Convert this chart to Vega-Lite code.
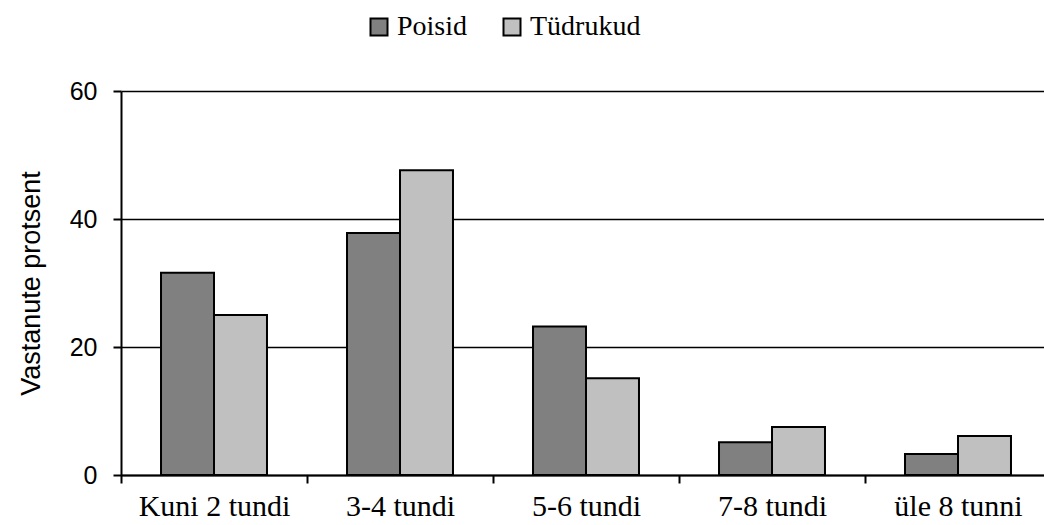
{
  "$schema": "https://vega.github.io/schema/vega-lite/v6.json",
  "width": 930,
  "height": 384,
  "autosize": {"type": "none"},
  "padding": {"left": 121, "top": 91, "right": 0, "bottom": 50},
  "background": "white",
  "config": {"view": {"stroke": null}},
  "data": {"values": [
    {"aeg": "Kuni 2 tundi", "sugu": "Poisid", "protsent": 31.6},
    {"aeg": "Kuni 2 tundi", "sugu": "Tüdrukud", "protsent": 25.0},
    {"aeg": "3-4 tundi", "sugu": "Poisid", "protsent": 37.8},
    {"aeg": "3-4 tundi", "sugu": "Tüdrukud", "protsent": 47.6},
    {"aeg": "5-6 tundi", "sugu": "Poisid", "protsent": 23.2},
    {"aeg": "5-6 tundi", "sugu": "Tüdrukud", "protsent": 15.1},
    {"aeg": "7-8 tundi", "sugu": "Poisid", "protsent": 5.1},
    {"aeg": "7-8 tundi", "sugu": "Tüdrukud", "protsent": 7.5},
    {"aeg": "üle 8 tunni", "sugu": "Poisid", "protsent": 3.3},
    {"aeg": "üle 8 tunni", "sugu": "Tüdrukud", "protsent": 6.1}
  ]},
  "mark": {"type": "bar", "stroke": "black", "strokeWidth": 2},
  "encoding": {
    "x": {
      "field": "aeg", "type": "nominal", "sort": null,
      "scale": {"paddingInner": 0, "paddingOuter": 0},
      "axis": {
        "title": null, "labelAngle": 0, "tickBand": "extent",
        "domainColor": "black", "domainWidth": 2,
        "tickColor": "black", "tickWidth": 2, "tickSize": 8,
        "labelFont": "Times New Roman", "labelFontSize": 30, "labelColor": "black",
        "labelPadding": 8, "grid": false
      }
    },
    "xOffset": {
      "field": "sugu", "type": "nominal",
      "scale": {"paddingInner": 0, "paddingOuter": 0.755}
    },
    "y": {
      "field": "protsent", "type": "quantitative",
      "scale": {"domain": [0, 60], "nice": false},
      "axis": {
        "title": "Vastanute  protsent", "values": [0, 20, 40, 60],
        "titleFont": "Liberation Sans", "titleFontSize": 27, "titleFontWeight": "normal",
        "titleColor": "black", "titlePadding": 24,
        "labelFont": "Liberation Sans", "labelFontSize": 25, "labelColor": "black",
        "labelPadding": 16,
        "domainColor": "black", "domainWidth": 2,
        "tickColor": "black", "tickWidth": 2, "tickSize": 8,
        "grid": true, "gridColor": "black", "gridWidth": 1.5, "gridOpacity": 1
      }
    },
    "color": {
      "field": "sugu", "type": "nominal",
      "scale": {"domain": ["Poisid", "Tüdrukud"], "range": ["#808080", "#c0c0c0"]},
      "legend": {
        "title": null, "orient": "none", "direction": "horizontal",
        "legendX": 244, "legendY": -78,
        "symbolType": "square", "symbolSize": 289, "symbolStrokeColor": "black",
        "symbolStrokeWidth": 2, "symbolOpacity": 1,
        "labelFont": "Times New Roman", "labelFontSize": 28, "labelColor": "black",
        "labelOffset": 4, "columnPadding": 30
      }
    }
  }
}
